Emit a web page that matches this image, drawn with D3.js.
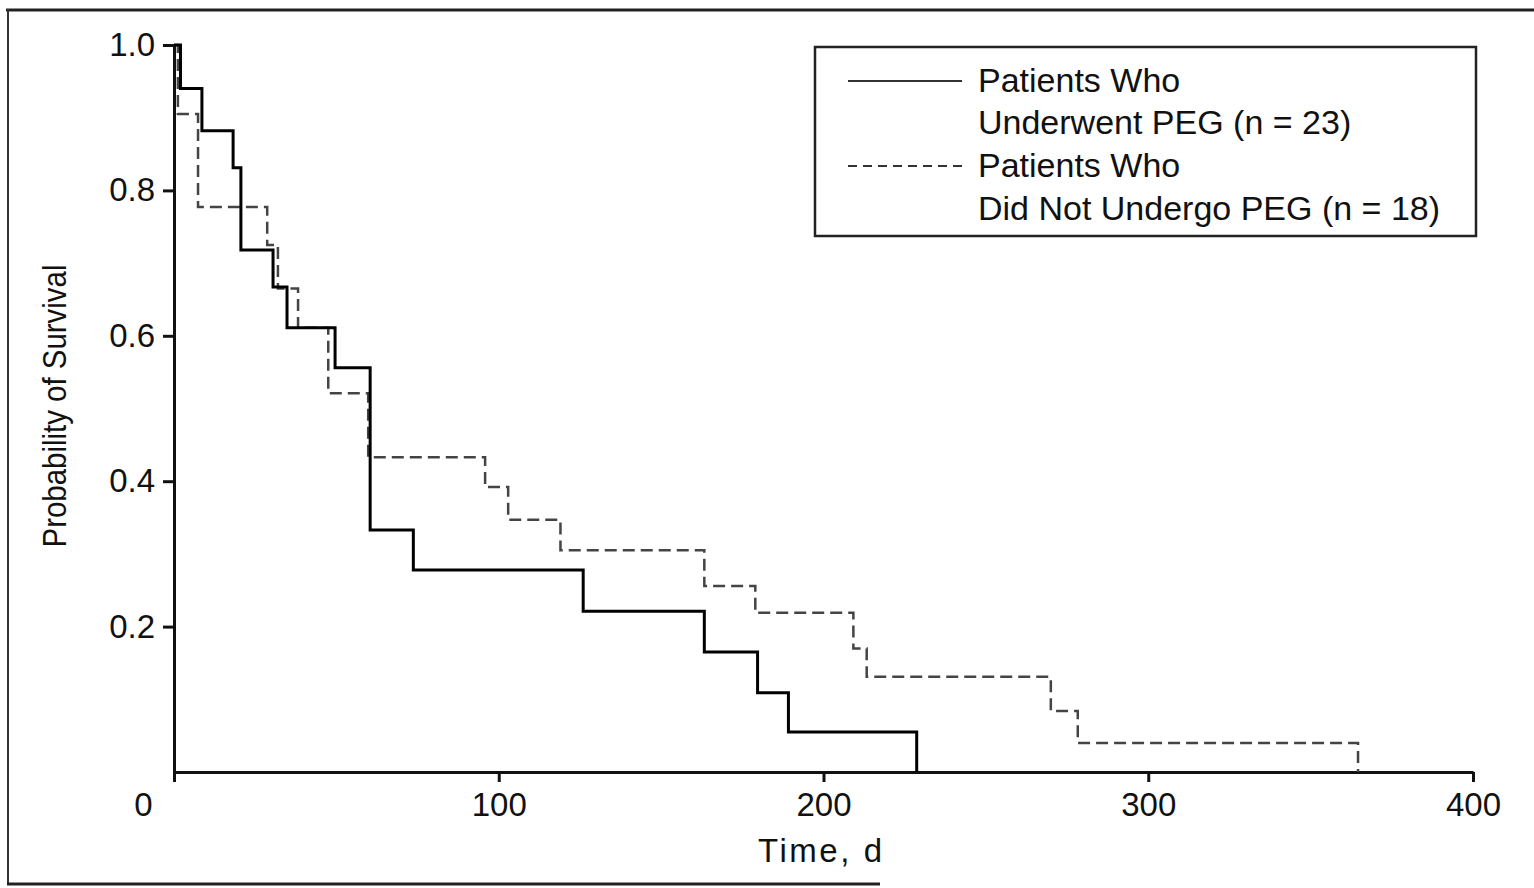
<!DOCTYPE html>
<html>
<head>
<meta charset="utf-8">
<script src="https://cdn.jsdelivr.net/npm/d3@7"></script>
<style>
  html, body { margin: 0; padding: 0; background: #fff; }
  svg { display: block; }
  text { font-family: "Liberation Sans", Arial, Helvetica, sans-serif; fill: #111; }
</style>
</head>
<body>
<svg id="chart" width="1534" height="888"></svg>
<script>
// ---- data ----
const timeSolid = [0, 2, 8.6, 18.2, 20.6, 30.5, 34.8, 49.6, 60.4, 73.7, 126, 163.3, 179.7, 189.2, 228.7];
const survSolid = [1.0, 0.94, 0.882, 0.831, 0.718, 0.667, 0.611, 0.556, 0.333, 0.278, 0.221, 0.165, 0.109, 0.055, 0];

const timeDashed = [0, 1.2, 7.4, 28.7, 32.0, 38.2, 47.5, 59.8, 95.8, 102.9, 119.0, 163.3, 179.0, 209.2, 213.3, 270, 278.3, 364.6];
const survDashed = [1.0, 0.905, 0.777, 0.725, 0.665, 0.611, 0.521, 0.433, 0.392, 0.347, 0.305, 0.256, 0.219, 0.17, 0.131, 0.084, 0.04, 0];

const xTicks = [0, 100, 200, 300, 400];
const yTicks = [0.2, 0.4, 0.6, 0.8, 1.0];
const yTickLabels = ["0.2", "0.4", "0.6", "0.8", "1.0"];

const seriesNames = ["Patients Who", "Underwent PEG (n = 23)", "Patients Who", "Did Not Undergo PEG (n = 18)"];
const xTitle = "Time, d";
const yTitle = "Probability of Survival";

// ---- drawing ----
const svg = d3.select("#chart");
const x = d3.scaleLinear().domain([0, 400]).range([174, 1473]);
const y = d3.scaleLinear().domain([0, 1]).range([772, 45]);

// figure frame
svg.append("line").attr("x1", 6).attr("x2", 1534).attr("y1", 10).attr("y2", 10)
  .attr("stroke", "#222").attr("stroke-width", 3);
svg.append("line").attr("x1", 8).attr("x2", 8).attr("y1", 9).attr("y2", 885)
  .attr("stroke", "#333").attr("stroke-width", 2);
svg.append("line").attr("x1", 7).attr("x2", 880).attr("y1", 884).attr("y2", 884)
  .attr("stroke", "#222").attr("stroke-width", 3);

// axes
const xAxis = d3.axisBottom(x).tickValues(xTicks).tickSize(10).tickPadding(11)
  .tickFormat(d3.format("d")).tickSizeOuter(0);
const yAxis = d3.axisLeft(y).tickValues(yTicks).tickSize(11).tickPadding(8)
  .tickFormat((d, i) => yTickLabels[i]).tickSizeOuter(0);

const gx = svg.append("g").attr("transform", `translate(0,${y(0)})`).call(xAxis);
const gy = svg.append("g").attr("transform", `translate(${x(0)},0)`).call(yAxis);

[gx, gy].forEach(g => {
  g.select(".domain").attr("stroke", "#111").attr("stroke-width", 3);
  g.selectAll(".tick line").attr("stroke", "#111").attr("stroke-width", 3);
  g.selectAll(".tick text").attr("font-size", 33).attr("fill", "#111")
    .style("font-family", "'Liberation Sans', Arial, sans-serif");
});
// the "0" label sits left of the origin in the reference
gx.selectAll(".tick text").filter(d => d === 0).attr("dx", -31);

// axis titles
svg.append("text").attr("x", 820).attr("y", 862).attr("text-anchor", "middle")
  .attr("font-size", 33).attr("textLength", 124).attr("lengthAdjust", "spacing")
  .text(xTitle);
svg.append("text")
  .attr("transform", "translate(66,406) rotate(-90)")
  .attr("text-anchor", "middle").attr("font-size", 33)
  .attr("textLength", 283).attr("lengthAdjust", "spacingAndGlyphs")
  .text(yTitle);

// survival curves
const line = d3.line().x(d => x(d[0])).y(d => y(d[1])).curve(d3.curveStepAfter);
const solidData = timeSolid.map((t, i) => [t, survSolid[i]]);
const dashedData = timeDashed.map((t, i) => [t, survDashed[i]]);

svg.append("path").datum(dashedData).attr("d", line)
  .attr("fill", "none").attr("stroke", "#444").attr("stroke-width", 2.5)
  .attr("stroke-dasharray", "12,6");
svg.append("path").datum(solidData).attr("d", line)
  .attr("fill", "none").attr("stroke", "#000").attr("stroke-width", 3);

// legend
const lg = svg.append("g");
lg.append("rect").attr("x", 815).attr("y", 47).attr("width", 661).attr("height", 189)
  .attr("fill", "#fff").attr("stroke", "#222").attr("stroke-width", 2.5);
lg.append("line").attr("x1", 848).attr("x2", 962).attr("y1", 81).attr("y2", 81)
  .attr("stroke", "#333").attr("stroke-width", 2);
lg.append("line").attr("x1", 848).attr("x2", 962).attr("y1", 166).attr("y2", 166)
  .attr("stroke", "#333").attr("stroke-width", 2).attr("stroke-dasharray", "9,6");
const legendY = [92, 134, 177, 220];
seriesNames.forEach((s, i) => {
  lg.append("text").attr("x", 978).attr("y", legendY[i]).attr("font-size", 34).text(s);
});
</script>
</body>
</html>
